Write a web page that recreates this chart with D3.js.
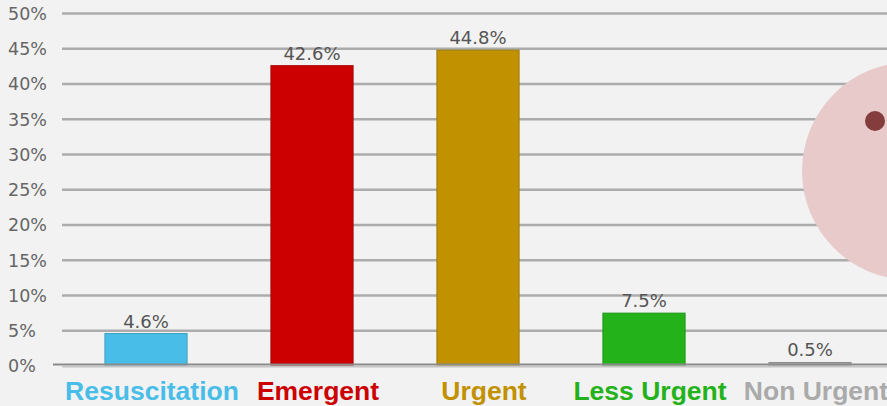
<!DOCTYPE html>
<html>
<head>
<meta charset="utf-8">
<script src="https://cdn.jsdelivr.net/npm/d3@7"></script>
<style>
  html, body { margin: 0; padding: 0; background: #f2f2f2; overflow: hidden; }
</style>
</head>
<body>
<div id="chart"></div>
<script>
// Chart data
var categories = ["Resuscitation", "Emergent", "Urgent", "Less Urgent", "Non Urgent"];
var values = [4.6, 42.6, 44.8, 7.5, 0.5];
var barColors = ["#48bde8", "#cc0000", "#c29100", "#24b21a", "#aaaaaa"];
var yTicks = [0, 5, 10, 15, 20, 25, 30, 35, 40, 45, 50];

var svgWidth = 887;
var svgHeight = 406;

var margin = { top: 13.5, right: -6, bottom: 40, left: 63 };
var width = svgWidth - margin.left - margin.right;
var height = svgHeight - margin.top - margin.bottom;

var svg = d3.select("#chart")
  .append("svg")
  .attr("width", svgWidth)
  .attr("height", svgHeight)
  .style("display", "block")
  .style("background", "#f2f2f2");

var chartGroup = svg.append("g")
  .attr("transform", `translate(${margin.left}, ${margin.top})`);

// Scales
var xScale = d3.scaleBand()
  .domain(categories)
  .range([0, width])
  .paddingInner(0.505)
  .paddingOuter(0.2525);

var yScale = d3.scaleLinear()
  .domain([0, 50])
  .range([height, 0]);

var colorScale = d3.scaleOrdinal()
  .domain(categories)
  .range(barColors);

// Gridlines
chartGroup.append("g")
  .selectAll("line")
  .data(yTicks.filter(d => d > 0))
  .enter()
  .append("line")
  .attr("x1", -1)
  .attr("x2", width)
  .attr("y1", d => yScale(d))
  .attr("y2", d => yScale(d))
  .attr("stroke", "#acacac")
  .attr("stroke-width", 2.5);

// Y tick labels (left aligned)
chartGroup.append("g")
  .selectAll("text")
  .data(yTicks)
  .enter()
  .append("text")
  .attr("x", 8 - margin.left)
  .attr("y", d => yScale(d))
  .attr("dy", "0.36em")
  .attr("font-family", "DejaVu Sans, sans-serif")
  .attr("font-size", 17.5)
  .attr("fill", "#666")
  .text(d => d + "%");

// Bars
chartGroup.selectAll(".bar")
  .data(categories)
  .enter()
  .append("rect")
  .attr("class", "bar")
  .attr("x", d => xScale(d))
  .attr("y", (d, i) => yScale(values[i]))
  .attr("width", xScale.bandwidth())
  .attr("height", (d, i) => height - yScale(values[i]))
  .attr("fill", d => colorScale(d))
  .attr("stroke", (d, i) => d3.color(barColors[i]).darker(0.5))
  .attr("stroke-width", 1);

// Baseline
chartGroup.append("line")
  .attr("x1", 53 - margin.left)
  .attr("x2", width)
  .attr("y1", yScale(0) - 1.5)
  .attr("y2", yScale(0) - 1.5)
  .attr("stroke", "#8a8a8a")
  .attr("stroke-width", 2);
chartGroup.append("line")
  .attr("x1", 62 - margin.left)
  .attr("x2", width)
  .attr("y1", yScale(0) + 0.5)
  .attr("y2", yScale(0) + 0.5)
  .attr("stroke", "#c4c4c4")
  .attr("stroke-width", 2);

// Value labels
chartGroup.selectAll(".value")
  .data(categories)
  .enter()
  .append("text")
  .attr("class", "value")
  .attr("x", d => xScale(d) + xScale.bandwidth() / 2)
  .attr("y", (d, i) => yScale(values[i]) - 6)
  .attr("text-anchor", "middle")
  .attr("font-family", "DejaVu Sans, sans-serif")
  .attr("font-size", 18)
  .attr("fill", "#555")
  .text((d, i) => values[i].toFixed(1) + "%");

// Category labels (sit a little right of the bar centres)
chartGroup.selectAll(".cat")
  .data(categories)
  .enter()
  .append("text")
  .attr("class", "cat")
  .attr("x", d => xScale(d) + xScale.bandwidth() / 2 + 6)
  .attr("y", height + 34)
  .attr("text-anchor", "middle")
  .attr("font-family", "Liberation Sans, Arial, sans-serif")
  .attr("font-weight", "bold")
  .attr("font-size", 26.5)
  .attr("fill", d => colorScale(d))
  .text(d => d);

// Highlight marker at the right edge
svg.append("circle")
  .attr("cx", 911)
  .attr("cy", 171)
  .attr("r", 109)
  .attr("fill", "#e8cacb");
svg.append("circle")
  .attr("cx", 875)
  .attr("cy", 121)
  .attr("r", 10)
  .attr("fill", "#843c3c");
</script>
</body>
</html>
